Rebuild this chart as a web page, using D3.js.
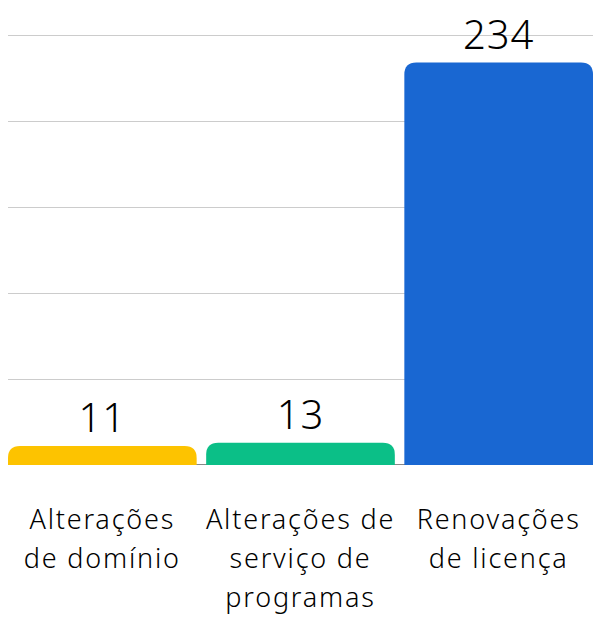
<!DOCTYPE html>
<html>
<head>
<meta charset="utf-8">
<script src="https://cdn.jsdelivr.net/npm/d3@7"></script>
<style>
  html, body { margin: 0; padding: 0; background: #fff; }
  svg { display: block; font-family: "Noto Sans", sans-serif; }
</style>
</head>
<body>
<div id="chart"></div>
<script>
const categories = ["Alterações de domínio", "Alterações de serviço de programas", "Renovações de licença"];
const categoryLines = [
    ["Alterações", "de domínio"],
    ["Alterações de", "serviço de", "programas"],
    ["Renovações", "de licença"]
];
const values = [11, 13, 234];
const barColors = ["#fdc300", "#0bbf87", "#1967d2"];
const yTicks = [0, 50, 100, 150, 200, 250];

const width = 594, height = 617;
const margin = { top: 35, right: 1, bottom: 152, left: 8 };
const innerW = width - margin.left - margin.right;
const innerH = height - margin.top - margin.bottom;

const svg = d3.select("#chart").append("svg")
    .attr("width", width)
    .attr("height", height);

const g = svg.append("g")
    .attr("transform", `translate(${margin.left}, ${margin.top})`);

const x = d3.scaleBand().domain(categories).range([0, innerW]).paddingInner(0.048).paddingOuter(0);
const y = d3.scaleLinear().domain([0, 250]).range([innerH, 0]);

// gridlines
g.selectAll(".grid")
    .data(yTicks.filter(t => t > 0))
    .enter()
    .append("line")
    .attr("x1", 0)
    .attr("x2", innerW)
    .attr("y1", d => Math.round(y(d)) + 0.5)
    .attr("y2", d => Math.round(y(d)) + 0.5)
    .attr("stroke", "#cccccc")
    .attr("stroke-width", 1);

// baseline
g.append("line")
    .attr("x1", 0)
    .attr("x2", innerW)
    .attr("y1", y(0) - 0.5)
    .attr("y2", y(0) - 0.5)
    .attr("stroke", "#888")
    .attr("stroke-width", 1);

// bars with rounded top corners
const r = 12;
function topRounded(x0, y0, w, h) {
    const rr = Math.min(r, h, w / 2);
    return `M${x0},${y0 + h}V${y0 + rr}Q${x0},${y0} ${x0 + rr},${y0}H${x0 + w - rr}Q${x0 + w},${y0} ${x0 + w},${y0 + rr}V${y0 + h}Z`;
}

g.selectAll(".bar")
    .data(categories)
    .enter()
    .append("path")
    .attr("fill", (d, i) => barColors[i])
    .attr("d", (d, i) => topRounded(x(d), y(values[i]), x.bandwidth(), y(0) - y(values[i])));

// value labels
g.selectAll(".value")
    .data(categories)
    .enter()
    .append("text")
    .attr("x", d => x(d) + x.bandwidth() / 2)
    .attr("y", (d, i) => y(values[i]) - 14)
    .attr("text-anchor", "middle")
    .style("font-size", "40px")
    .style("font-weight", 300)
    .style("letter-spacing", "1px")
    .style("fill", "#000")
    .text((d, i) => values[i]);

// category labels
const labels = g.selectAll(".cat")
    .data(categories)
    .enter()
    .append("text")
    .attr("text-anchor", "middle")
    .style("font-size", "27px")
    .style("font-weight", 300)
    .style("letter-spacing", "1.8px")
    .style("fill", "#000")
    .attr("transform", d => `translate(${x(d) + x.bandwidth() / 2}, ${innerH + 64})`);

labels.selectAll("tspan")
    .data((d, i) => categoryLines[i])
    .enter()
    .append("tspan")
    .attr("x", 0)
    .attr("y", (d, j) => j * 39)
    .text(d => d);
</script>
</body>
</html>
